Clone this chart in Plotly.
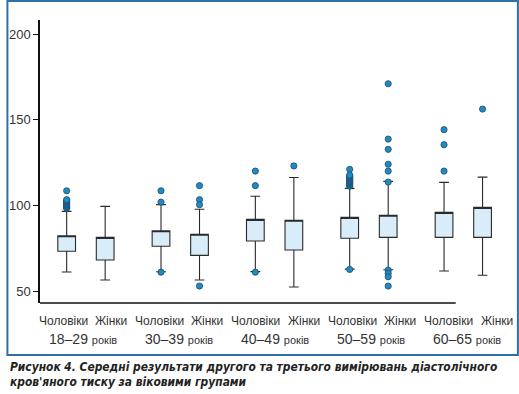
import plotly.graph_objects as go

# ---- data ----
age_groups = ["18–29", "30–39", "40–49", "50–59", "60–65"]
sexes = ["Чоловіки", "Жінки"]
unit_word = "років"

# per box, order: men, women for each age group
q1 = [73.2, 68.1, 76.1, 70.8, 79.2, 73.9, 80.8, 81.3, 81.3, 81.3]
q3 = [82.3, 81.3, 85.2, 83.1, 91.8, 91.3, 93.0, 94.2, 95.9, 98.8]
lower_whisker = [61.1, 56.4, 61.2, 56.4, 61.3, 52.3, 62.8, 62.4, 61.7, 59.2]
upper_whisker = [96.5, 99.4, 100.4, 97.7, 105.3, 116.3, 109.9, 114.0, 113.4, 116.5]

outliers = [
    [108.5, 98.3, 98.8, 99.3, 99.8, 100.3, 100.8, 101.3, 101.8, 102.3, 102.8, 103.3],
    [],
    [108.5, 101.9, 61.0],
    [111.5, 103.3, 100.4, 52.9],
    [120.0, 111.5, 61.0],
    [123.0],
    [121.0, 111.2, 111.7, 112.2, 112.7, 113.2, 113.7, 114.2, 114.7, 115.2, 115.7, 116.2, 116.7, 117.2, 117.7, 62.6],
    [171.0, 138.7, 132.7, 124.0, 120.0, 113.6, 62.2, 60.3, 58.3, 52.9],
    [144.2, 135.4, 120.0],
    [156.2],
]

caption_lines = [
    "Рисунок 4. Середні результати другого та третього вимірювань діастолічного",
    "кров'яного тиску за віковими групами",
]

# ---- layout helpers (pixels -> positions) ----
W, H = 519, 394
ML, MR, MT, MB = 34, 9, 20, 91
PW, PH = W - ML - MR, H - MT - MB
GROUP_STEP = 2.45
PX0, PXU = 61.0, 39.0   # pixel of x=0 and pixels per x unit


def px_x(px):
    return (px - ML) / PW


def px_y(py):
    return (H - MB - py) / PH


def px_to_xval(px):
    return (px - PX0) / PXU


positions = []
for gi in range(len(age_groups)):
    for si in range(len(sexes)):
        positions.append(gi * GROUP_STEP + si)

fig = go.Figure()

fig.add_trace(go.Box(
    x=positions,
    q1=q1,
    q3=q3,
    median=q3,
    lowerfence=lower_whisker,
    upperfence=upper_whisker,
    width=0.46,
    whiskerwidth=0.55,
    fillcolor="#d8edf9",
    line=dict(color="#2a2a2a", width=1.1),
    boxpoints=False,
    hoverinfo="skip",
    showlegend=False,
))

ox, oy = [], []
for pos, vals in zip(positions, outliers):
    for v in vals:
        ox.append(pos)
        oy.append(v)

fig.add_trace(go.Scatter(
    x=ox, y=oy, mode="markers",
    marker=dict(size=6.2, color="#2389c2", line=dict(color="#1b4d6d", width=0.8)),
    showlegend=False, hoverinfo="skip",
))

annotations = []
label_font = dict(family="Liberation Sans, Arial, sans-serif", size=12, color="#333333")
for gi in range(len(age_groups)):
    men_px = 57.5 + 97.6 * gi
    for si, s in enumerate(sexes):
        annotations.append(dict(
            x=px_to_xval(men_px + 48.5 * si), y=px_y(321), xref="x", yref="paper",
            text=s, showarrow=False, font=label_font,
            xanchor="center", yanchor="middle",
        ))
    annotations.append(dict(
        x=px_to_xval(78 + 97.2 * gi), y=px_y(339), xref="x", yref="paper",
        text=f"{age_groups[gi]} <span style='font-size:11px'>{unit_word}</span>", showarrow=False,
        font=dict(family="Liberation Sans, Arial, sans-serif", size=14, color="#333333"),
        xanchor="center", yanchor="middle",
    ))
for li, line in enumerate(caption_lines):
    annotations.append(dict(
        x=px_x(2), y=px_y(367 + li * 14.5), xref="paper", yref="paper",
        text=f"<b><i>{line}</i></b>", showarrow=False,
        font=dict(family="Liberation Sans Narrow, DejaVu Sans Condensed, Arial, sans-serif",
                  size=11.9, color="#222222"),
        xanchor="left", yanchor="middle",
    ))

shapes = [
    # x-axis line (shorter than plot width)
    dict(type="line", xref="paper", yref="paper",
         x0=0, x1=px_x(455), y0=0, y1=0,
         line=dict(color="#111111", width=1.5)),
    # blue frame around chart
    dict(type="rect", xref="paper", yref="paper",
         x0=px_x(1), x1=px_x(518), y0=px_y(355), y1=px_y(1),
         line=dict(color="#2f6fa6", width=2), fillcolor="rgba(0,0,0,0)"),
]

fig.update_layout(
    width=W, height=H,
    margin=dict(l=ML, r=MR, t=MT, b=MB, pad=0),
    paper_bgcolor="white", plot_bgcolor="white",
    annotations=annotations, shapes=shapes,
    xaxis=dict(range=[px_to_xval(ML), px_to_xval(W - MR)], showticklabels=False,
               showgrid=False, zeroline=False, showline=False, ticks=""),
    yaxis=dict(range=[43.0, 208.2], tickvals=[50, 100, 150, 200],
               showgrid=False, zeroline=False, showline=True,
               linecolor="#111111", linewidth=1.5,
               ticks="outside", ticklen=5, tickcolor="#111111", tickwidth=1.2,
               tickfont=dict(family="Liberation Sans, Arial, sans-serif", size=13, color="#333333")),
)

fig.write_html("out.html", config={"displayModeBar": False},
               post_script="document.body.style.margin='0';")
